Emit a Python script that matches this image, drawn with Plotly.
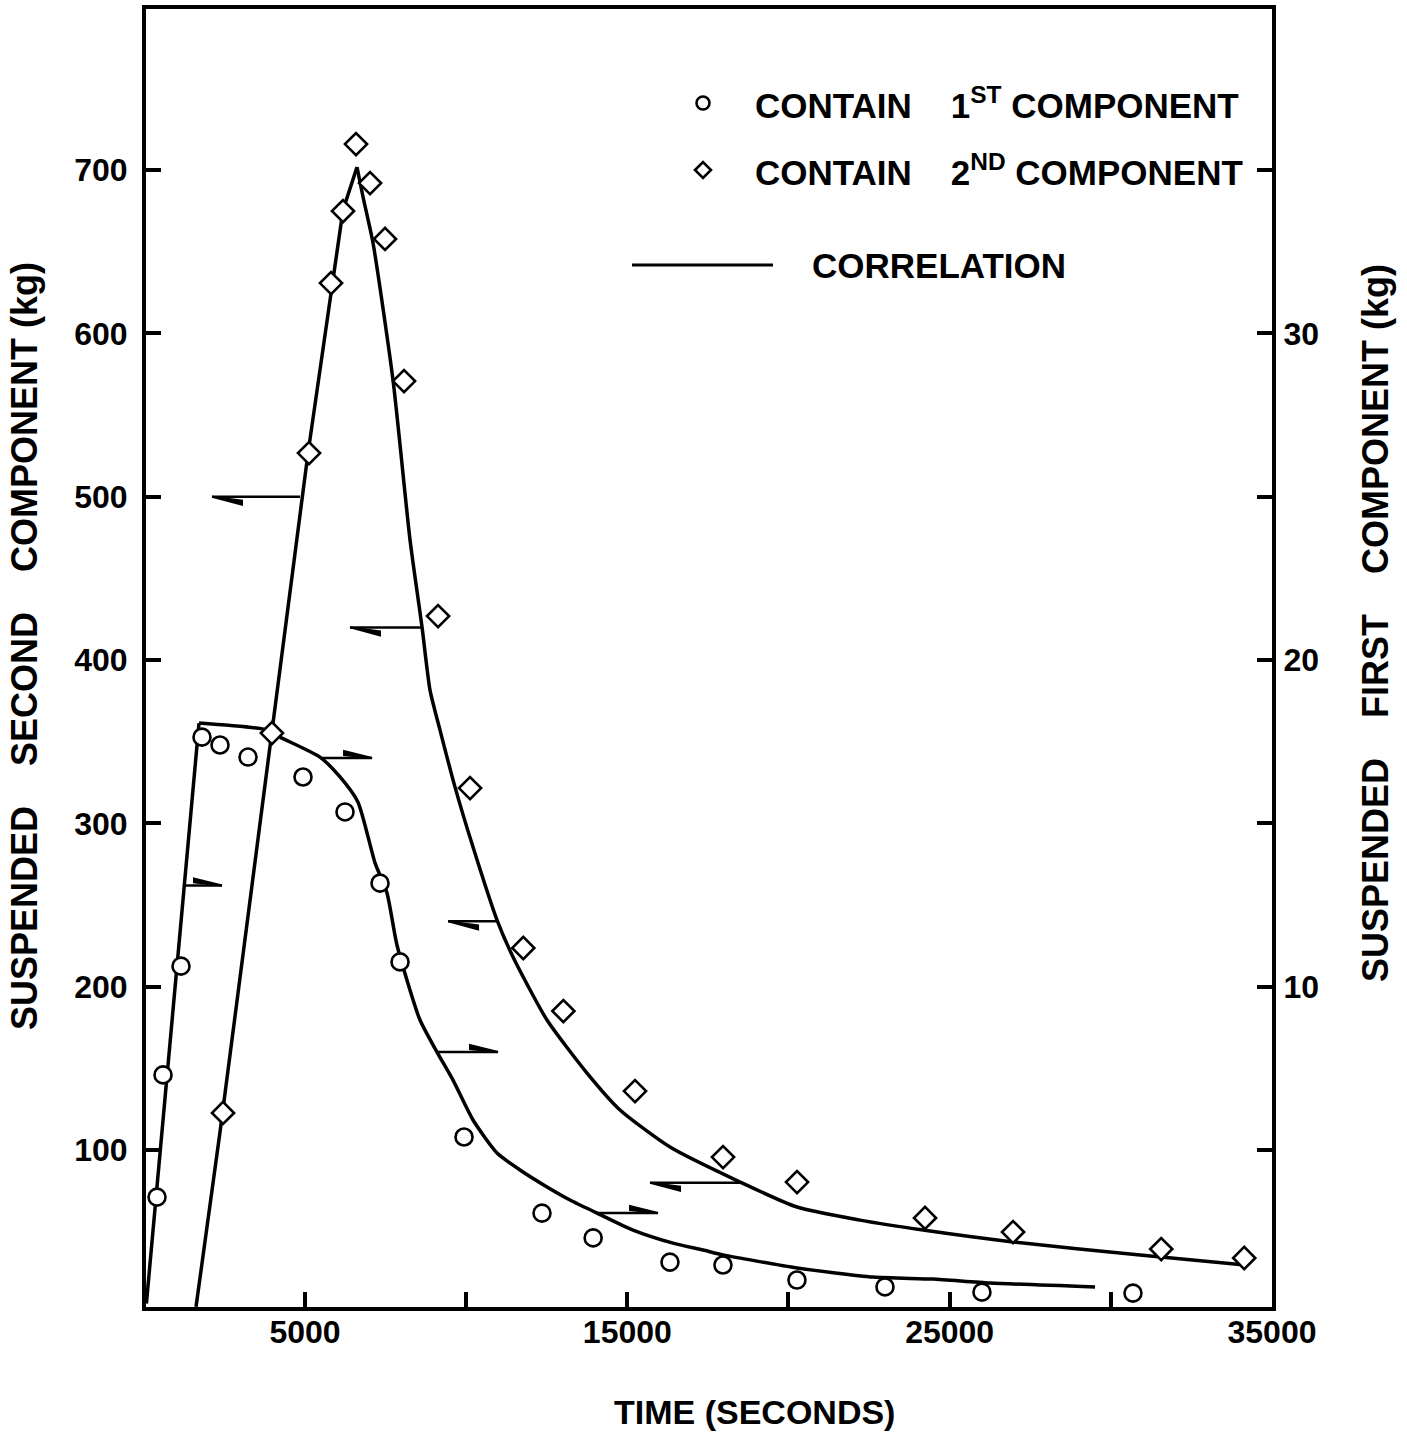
import plotly.graph_objects as go

# ---------------- data ----------------
# Observed: suspended first component (right axis, kg) vs time (s)
T1_OBS = [410, 596, 1154, 1805, 2364, 3233, 4939, 6242, 7328, 7949, 9934,
          12353, 13940, 16323, 17967, 20263, 22993, 26002, 30687]
M1_OBS = [3.56, 7.30, 10.63, 17.64, 17.40, 17.03, 16.42, 15.35, 13.17, 10.76,
          5.40, 3.07, 2.31, 1.57, 1.48, 1.02, 0.81, 0.65, 0.62]

# Observed: suspended second component (left axis, kg) vs time (s)
T2_OBS = [2457, 3974, 5124, 5808, 6180, 6583, 7018, 7483, 8073, 9128, 10120,
          11772, 13016, 15239, 17969, 20265, 24236, 26966, 31563, 34138]
M2_OBS = [122.7, 355.3, 526.7, 630.8, 674.9, 715.9, 692.0, 657.8, 570.8, 426.9,
          321.6, 223.7, 185.1, 136.1, 95.7, 80.4, 58.4, 49.8, 39.4, 33.9]

# Correlation curves
T1_FIT = [80, 1713, 3822, 4225, 5466, 6087, 6645, 7173, 7545, 7855, 8569, 9096,
          9593, 10213, 10958, 11671, 12509, 13222, 14060, 15177, 16418, 17349,
          17969, 20265, 22623, 24484, 26252, 29510]
M1_FIT = [0.3, 18.07, 17.86, 17.64, 17.03, 16.42, 15.65, 13.79, 12.87, 11.27,
          8.98, 8.00, 7.14, 5.92, 4.91, 4.39, 3.87, 3.47, 3.07, 2.55, 2.15, 1.94,
          1.79, 1.39, 1.11, 1.05, 0.93, 0.81]
T1_FIT_BREAK = 1      # index of the corner between the straight rise and the curve

T2_FIT = [1620, 2364, 5094, 5839, 6180, 6614, 6801, 7111, 7731, 8259, 8631, 8879,
          9189, 9655, 10213, 10958, 11454, 12509, 13750, 14774, 16325, 18497,
          20265, 22219, 24174, 26966, 30906, 34164]
M2_FIT = [4.0, 111.0, 526.7, 630.8, 675.5, 701.8, 683.5, 655.3, 571.4, 473.5,
          420.2, 381.6, 357.1, 322.2, 285.5, 240.8, 218.2, 179.6, 147.1, 124.5,
          101.8, 80.4, 65.1, 57.1, 51.0, 43.7, 35.7, 29.6]
T2_FIT_BREAK = 5      # index of the peak

# Axis-pointing half arrows
ARR2_TIP_T = [2116, 6397, 9439, 15705]       # point left -> second component axis
ARR2_TAIL_T = [4846, 8631, 10958, 18497]
ARR2_LEVEL = [500, 420, 240, 80]
ARR1_TAIL_T = [1278, 5466, 9096, 14060]      # point right -> first component axis
ARR1_TIP_T = [2426, 7080, 10989, 15953]
ARR1_LEVEL = [13.1, 17.0, 8.0, 3.07]

# Tick labels
X_TICKS = [5000, 10000, 15000, 20000, 25000, 30000, 35000]
X_TICKTEXT = ["5000", "", "15000", "", "25000", "", "35000"]
Y_TICKS = [100, 200, 300, 400, 500, 600, 700]
Y2_TICKS = [5, 10, 15, 20, 25, 30, 35]
Y2_TICKTEXT = ["", "10", "", "20", "", "30", ""]

RATIO = 20.0                 # left-axis kg per right-axis kg
X_RANGE = [68, 35000]
Y_RANGE = [3.9, 798.6]
Y2_RANGE = [Y_RANGE[0] / RATIO, Y_RANGE[1] / RATIO]

# ---------------- layout geometry ----------------
W, H = 1407, 1433
ML, MR, MT, MB = 146, 135, 9, 126
PW, PH = W - ML - MR, H - MT - MB
X_PER_PX = (X_RANGE[1] - X_RANGE[0]) / PW
Y_PER_PX = (Y_RANGE[1] - Y_RANGE[0]) / PH
Y2_PER_PX = Y_PER_PX / RATIO


def px(xp):
    return (xp - ML) / PW


def py(yp):
    return (H - MB - yp) / PH


FONT = "Liberation Sans, Arial, Helvetica, sans-serif"
BLACK = "black"
LINE = dict(color=BLACK, width=3.5)

fig = go.Figure()

# correlation lines (first component converted to left-axis units via RATIO)
b = T2_FIT_BREAK
fig.add_trace(go.Scatter(x=T2_FIT[:b + 1], y=M2_FIT[:b + 1], mode="lines",
                         line=LINE, showlegend=False, hoverinfo="skip"))
fig.add_trace(go.Scatter(x=T2_FIT[b:], y=M2_FIT[b:], mode="lines",
                         line=dict(LINE, shape="spline", smoothing=0.6),
                         showlegend=False, hoverinfo="skip"))
b = T1_FIT_BREAK
m1_left = [v * RATIO for v in M1_FIT]
fig.add_trace(go.Scatter(x=T1_FIT[:b + 1], y=m1_left[:b + 1], mode="lines",
                         line=LINE, showlegend=False, hoverinfo="skip"))
fig.add_trace(go.Scatter(x=T1_FIT[b:], y=m1_left[b:], mode="lines",
                         line=dict(LINE, shape="spline", smoothing=0.6),
                         showlegend=False, hoverinfo="skip"))
# diamonds: second component
fig.add_trace(go.Scatter(x=T2_OBS, y=M2_OBS, mode="markers",
                         marker=dict(symbol="diamond", size=17, color="white",
                                     line=dict(color=BLACK, width=2.6)),
                         showlegend=False))
# circles: first component, on the right axis
fig.add_trace(go.Scatter(x=T1_OBS, y=M1_OBS, mode="markers", yaxis="y2",
                         marker=dict(symbol="circle", size=17, color="white",
                                     line=dict(color=BLACK, width=2.6)),
                         showlegend=False))

shapes = []
# arrows to the left axis
for tip, tail, lvl in zip(ARR2_TIP_T, ARR2_TAIL_T, ARR2_LEVEL):
    shapes.append(dict(type="line", xref="x", yref="y", x0=tip, x1=tail, y0=lvl, y1=lvl,
                       line=dict(color=BLACK, width=2.5)))
    shapes.append(dict(type="path", xref="x", yref="y",
                       path=f"M {tip} {lvl} L {tip + 30 * X_PER_PX} {lvl - 8 * Y_PER_PX} "
                            f"L {tip + 30 * X_PER_PX} {lvl - 4 * Y_PER_PX} Z",
                       fillcolor=BLACK, line=dict(color=BLACK, width=2)))
# arrows to the right axis
for tail, tip, lvl in zip(ARR1_TAIL_T, ARR1_TIP_T, ARR1_LEVEL):
    shapes.append(dict(type="line", xref="x", yref="y2", x0=tail, x1=tip, y0=lvl, y1=lvl,
                       line=dict(color=BLACK, width=2.5)))
    shapes.append(dict(type="path", xref="x", yref="y2",
                       path=f"M {tip} {lvl} L {tip - 28 * X_PER_PX} {lvl + 7 * Y2_PER_PX} "
                            f"L {tip - 28 * X_PER_PX} {lvl + 3 * Y2_PER_PX} Z",
                       fillcolor=BLACK, line=dict(color=BLACK, width=2)))

# legend symbols
shapes.append(dict(type="circle", xref="paper", yref="paper", xsizemode="pixel",
                   ysizemode="pixel", xanchor=px(703), yanchor=py(103),
                   x0=-6.5, x1=6.5, y0=-6.5, y1=6.5, fillcolor="white",
                   line=dict(color=BLACK, width=2.6)))
shapes.append(dict(type="path", xref="paper", yref="paper", xsizemode="pixel",
                   ysizemode="pixel", xanchor=px(703), yanchor=py(170),
                   path="M -8 0 L 0 8 L 8 0 L 0 -8 Z", fillcolor="white",
                   line=dict(color=BLACK, width=2.6)))
shapes.append(dict(type="line", xref="paper", yref="paper", x0=px(632), x1=px(773),
                   y0=py(265), y1=py(265), line=dict(color=BLACK, width=3)))

NB = "\u00a0"


def bold(size):
    return dict(family=FONT, size=size, color=BLACK, weight="bold")


annotations = [
    dict(text=f"CONTAIN{NB*4}1<sup>ST</sup>{NB}COMPONENT", x=px(753), y=py(103),
         xref="paper", yref="paper", xanchor="left", yanchor="middle", showarrow=False,
         font=bold(35)),
    dict(text=f"CONTAIN{NB*4}2<sup>ND</sup>{NB}COMPONENT", x=px(753), y=py(170),
         xref="paper", yref="paper", xanchor="left", yanchor="middle", showarrow=False,
         font=bold(35)),
    dict(text="CORRELATION", x=px(810), y=py(265),
         xref="paper", yref="paper", xanchor="left", yanchor="middle", showarrow=False,
         font=bold(35)),
    dict(text="TIME (SECONDS)", x=px(754), y=py(1412),
         xref="paper", yref="paper", xanchor="center", yanchor="middle", showarrow=False,
         font=bold(34)),
    dict(text=f"SUSPENDED{NB*4}SECOND{NB*4}COMPONENT (kg)", x=px(24), y=py(646),
         xref="paper", yref="paper", xanchor="center", yanchor="middle", showarrow=False,
         textangle=-90, font=bold(36)),
    dict(text=f"SUSPENDED{NB*4}FIRST{NB*4}COMPONENT (kg)", x=px(1375), y=py(623),
         xref="paper", yref="paper", xanchor="center", yanchor="middle", showarrow=False,
         textangle=-90, font=bold(36)),
]

axis_common = dict(showline=True, linewidth=4, linecolor=BLACK, ticks="inside",
                   ticklen=15, tickwidth=4, tickcolor=BLACK, showgrid=False,
                   zeroline=False, tickfont=bold(32))

fig.update_layout(
    width=W, height=H,
    margin=dict(l=ML, r=MR, t=MT, b=MB, autoexpand=False),
    paper_bgcolor="white", plot_bgcolor="white",
    showlegend=False,
    xaxis=dict(range=X_RANGE, tickmode="array", tickvals=X_TICKS, ticktext=X_TICKTEXT,
               mirror=True, ticklabelstandoff=-6, **axis_common),
    yaxis=dict(range=Y_RANGE, tickmode="array", tickvals=Y_TICKS,
               ticklabelstandoff=8, **axis_common),
    yaxis2=dict(range=Y2_RANGE, tickmode="array", tickvals=Y2_TICKS, ticktext=Y2_TICKTEXT,
                overlaying="y", side="right", anchor="x", ticklabelstandoff=1,
                **axis_common),
    shapes=shapes,
    annotations=annotations,
)

fig.write_html("out.html", config={"displayModeBar": False},
               post_script="document.body.style.margin='0px';")
